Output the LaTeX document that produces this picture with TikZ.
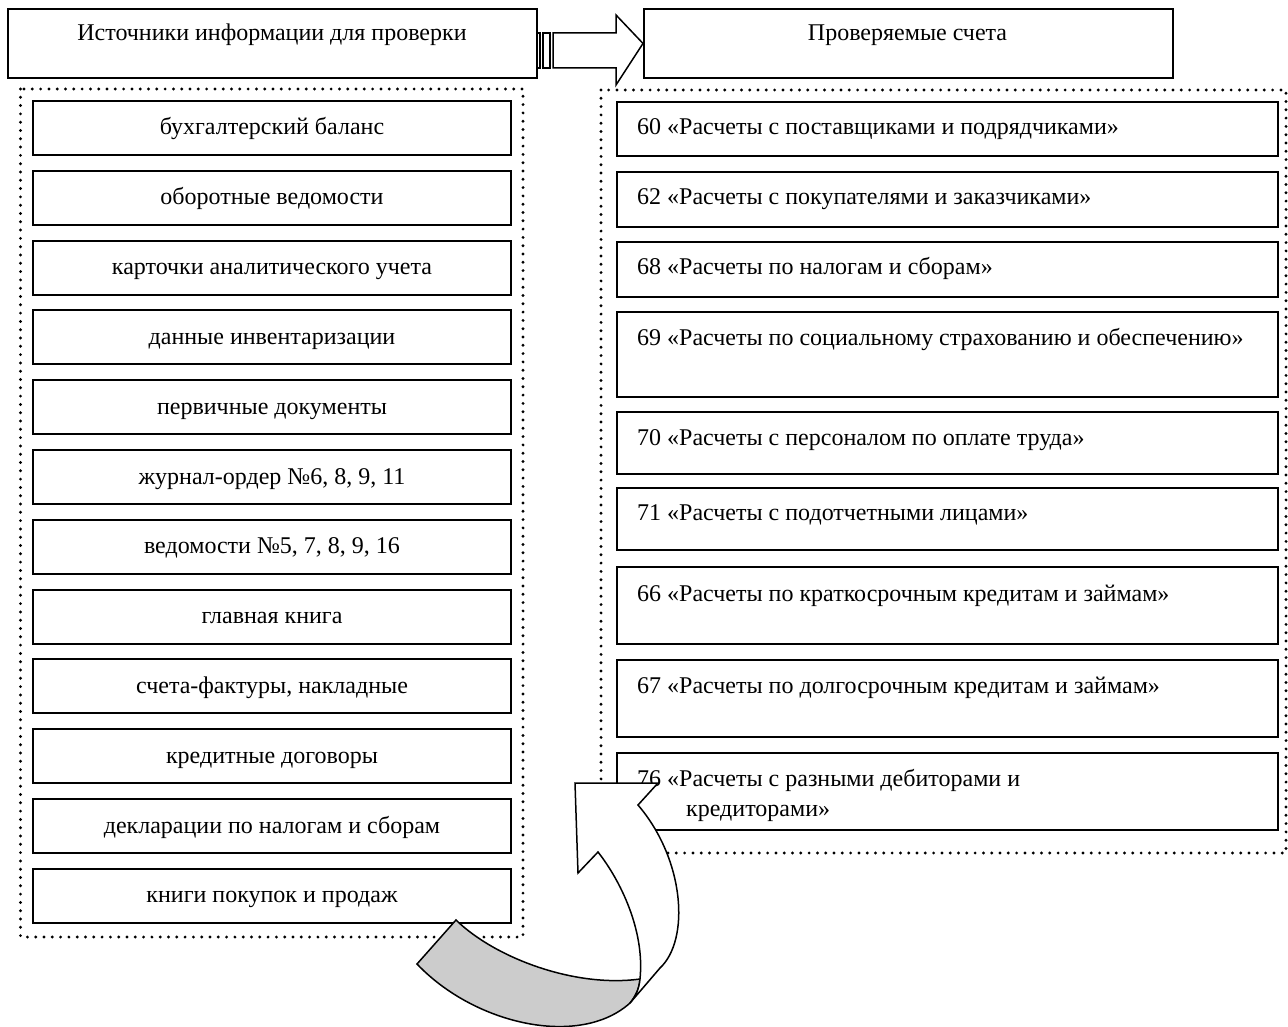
\documentclass[tikz,border=0pt]{standalone}
\usepackage{fontspec}
\setmainfont{Liberation Serif}
\begin{document}
\begin{tikzpicture}[x=1pt,y=-1pt,
  box/.style={draw, line width=1.9pt, inner sep=0pt},
  lbox/.style={box, minimum width=478pt, minimum height=54pt, font=\fontsize{24}{28}\selectfont, text height=16pt, text depth=2pt},
  rbox/.style={box, anchor=north west, minimum width=661pt},
  hbox/.style={box, anchor=north west, minimum width=529pt, minimum height=69pt},
  txt/.style={inner sep=0pt, font=\fontsize{24}{28}\selectfont},
  dotbox/.style={line width=3.2pt, line cap=round, dash pattern=on 0pt off 8.3pt},
  arr/.style={line width=1.5pt, line join=miter},
  ]
\useasboundingbox (0,0) rectangle (1288,1027);

% headers
\node[hbox] (h1) at (7,8) {};
\node[txt, anchor=base] (h1t) at (272,41) {Источники информации для проверки};
\node[hbox] (h2) at (643,8) {};
\node[txt, anchor=base] (h2t) at (907.5,41) {Проверяемые счета};

% striped arrow between headers
\draw[arr] (537,33) rectangle (540,68);
\draw[arr] (543,33) rectangle (550,68);
\draw[arr] (553,33) -- (616,33) -- (616,15) -- (h2.west) -- (616,85) -- (616,68) -- (553,68) -- cycle;

% dotted containers
\draw[dotbox] (20.5,89) rectangle (523,937);
\draw[dotbox] (601,90) rectangle (1286,853);

% left boxes
\foreach \t [count=\i] in {бухгалтерский баланс, оборотные ведомости,
  карточки аналитического учета, данные инвентаризации, первичные документы,
  {журнал-ордер №6, 8, 9, 11}, {ведомости №5, 7, 8, 9, 16}, главная книга,
  {счета-фактуры, накладные}, кредитные договоры,
  декларации по налогам и сборам, книги покупок и продаж}
  \node[lbox] (l\i) at (272,{128+69.8*(\i-1)}) {\t};

% right boxes
\node[rbox, minimum height=54pt] (r1) at (616,101) {};
\node[rbox, minimum height=55pt] (r2) at (616,171) {};
\node[rbox, minimum height=55pt] (r3) at (616,241) {};
\node[rbox, minimum height=85pt] (r4) at (616,311) {};
\node[rbox, minimum height=62pt] (r5) at (616,411) {};
\node[rbox, minimum height=62pt] (r6) at (616,487) {};
\node[rbox, minimum height=77pt] (r7) at (616,566) {};
\node[rbox, minimum height=77pt] (r8) at (616,659) {};
\node[rbox, minimum height=77pt] (r9) at (616,752) {};

\node[txt, anchor=base west] (r1t) at (637,135) {60 «Расчеты с поставщиками и подрядчиками»};
\node[txt, anchor=base west] (r2t) at (637,205) {62 «Расчеты с покупателями и заказчиками»};
\node[txt, anchor=base west] (r3t) at (637,275) {68 «Расчеты по налогам и сборам»};
\node[txt, anchor=base west] (r4t) at (637,345) {69 «Расчеты по социальному страхованию и обеспечению»};
\node[txt, anchor=base west] (r5t) at (637,445) {70 «Расчеты с персоналом по оплате труда»};
\node[txt, anchor=base west] (r6t) at (637,520) {71 «Расчеты с подотчетными лицами»};
\node[txt, anchor=base west] (r7t) at (637,601) {66 «Расчеты по краткосрочным кредитам и займам»};
\node[txt, anchor=base west] (r8t) at (637,693) {67 «Расчеты по долгосрочным кредитам и займам»};
\node[txt, anchor=base west] (r9t) at (637,786) {76 «Расчеты с разными дебиторами и};
\node[txt, anchor=base west] (r9u) at (686,816) {кредиторами»};

% curved arrow
\coordinate (A) at (417,964);
\coordinate (B) at (456,920);
\coordinate (Q) at (640,979);
\coordinate (P) at (630,1003);
\coordinate (L) at (598,852);
\coordinate (R) at (638,805);
\filldraw[arr, fill=gray!40] (A) -- (B) .. controls (495,958) and (575,988) .. (Q)
  .. controls (639,990) and (635,997) .. (P)
  .. controls (580,1048) and (475,1025) .. (A) -- cycle;
\filldraw[arr, fill=white] (L) .. controls (620,880) and (645,930) .. (Q)
  .. controls (639,990) and (635,997) .. (P)
  -- (660,968) .. controls (690,940) and (685,860) .. (R)
  -- (658,783) -- (575,783) -- (578,873) -- cycle;
\end{tikzpicture}
\end{document}
